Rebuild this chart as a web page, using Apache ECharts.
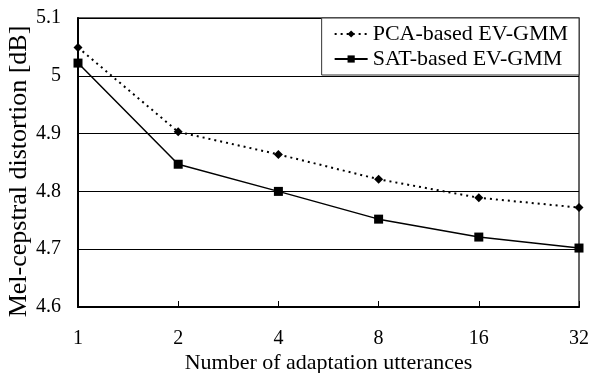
<!DOCTYPE html>
<html>
<head>
<meta charset="utf-8">
<script src="https://cdn.jsdelivr.net/npm/echarts@6/dist/echarts.min.js"></script>
<style>
  html, body { margin: 0; padding: 0; background: #fff; }
  #chart { width: 589px; height: 373px; }
</style>
</head>
<body>
<div id="chart"></div>
<script>
// adaptation utterance counts
var categories = ['1', '2', '4', '8', '16', '32']
var pcaValues = [5.049, 4.903, 4.864, 4.821, 4.789, 4.772]
var satValues = [5.022, 4.847, 4.800, 4.752, 4.721, 4.702]
var seriesNames = ['PCA-based EV-GMM', 'SAT-based EV-GMM']

var font = 'Liberation Serif'
var chart = echarts.init(document.getElementById('chart'))

chart.setOption({
  animation: false,
  textStyle: { fontFamily: font, color: '#000' },
  grid: {
    left: 78,
    right: 10,
    top: 18,
    bottom: 66,
    outerBoundsMode: 'none',
    show: true,
    borderColor: '#333',
    borderWidth: 1.5
  },
  legend: {
    orient: 'vertical',
    right: 10,
    top: 18,
    data: seriesNames,
    backgroundColor: '#fff',
    borderColor: '#333',
    borderWidth: 1,
    padding: [5, 11, 5, 12],
    itemGap: 3,
    itemWidth: 33,
    itemHeight: 9,
    textStyle: { fontFamily: font, fontSize: 22, color: '#000' }
  },
  xAxis: {
    type: 'category',
    data: categories,
    boundaryGap: false,
    name: 'Number of adaptation utterances',
    nameLocation: 'middle',
    nameGap: 45,
    nameMoveOverlap: false,
    nameTextStyle: { fontFamily: font, fontSize: 22, color: '#000' },
    axisLine: { lineStyle: { color: '#000', width: 2 } },
    axisTick: { inside: true, length: 6, lineStyle: { color: '#000' } },
    axisLabel: { margin: 22, fontFamily: font, fontSize: 20, color: '#000' },
    splitLine: { show: false }
  },
  yAxis: {
    type: 'value',
    min: 4.6,
    max: 5.1,
    interval: 0.1,
    name: 'Mel-cepstral distortion [dB]',
    nameLocation: 'middle',
    nameGap: 46,
    nameMoveOverlap: false,
    nameTextStyle: { fontFamily: font, fontSize: 26, color: '#000', padding: [0, 18, 0, 0] },
    axisLine: { show: true, lineStyle: { color: '#000', width: 2 } },
    axisTick: { show: false },
    axisLabel: {
      margin: 17,
      fontFamily: font,
      fontSize: 20,
      color: '#000',
      formatter: function (v) { return String(Math.round(v * 10) / 10) }
    },
    splitLine: { lineStyle: { color: '#000', width: 1 } }
  },
  series: [
    {
      name: seriesNames[0],
      type: 'line',
      data: pcaValues,
      symbol: 'diamond',
      symbolSize: 9,
      lineStyle: { color: '#000', width: 2, type: [2, 4] },
      itemStyle: { color: '#000' },
      z: 3
    },
    {
      name: seriesNames[1],
      type: 'line',
      data: satValues,
      symbol: 'rect',
      symbolSize: 9,
      lineStyle: { color: '#000', width: 1.5 },
      itemStyle: { color: '#000' },
      z: 4
    }
  ]
})
</script>
</body>
</html>
